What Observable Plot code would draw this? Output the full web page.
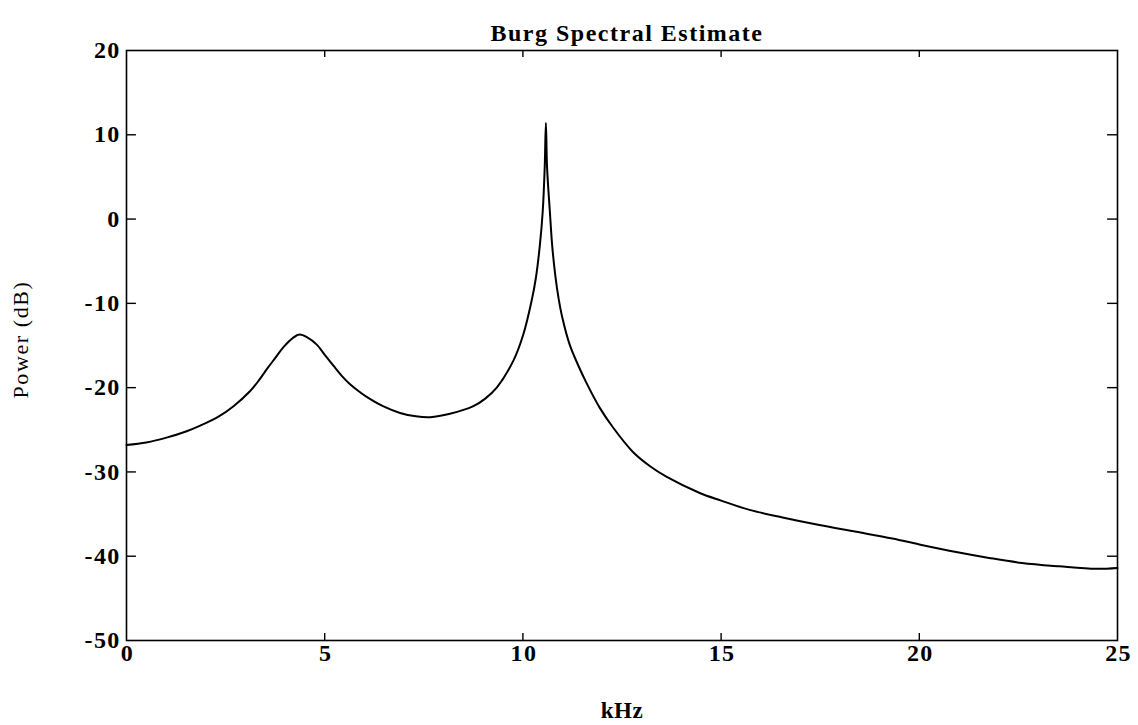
<!DOCTYPE html>
<html><head><meta charset="utf-8">
<script src="https://cdn.jsdelivr.net/npm/d3@7"></script>
<script src="https://cdn.jsdelivr.net/npm/@observablehq/plot@0.6"></script>
<style>body{margin:0;background:#fff}</style>
</head><body><div id="chart"></div>
<script>
const titleText = "Burg Spectral Estimate";
const xLabel = "kHz";
const yLabel = "Power (dB)";
const xTicks = [0, 5, 10, 15, 20, 25];
const yTicks = [-50, -40, -30, -20, -10, 0, 10, 20];
const freq = [0, 0.5, 1.03, 1.5, 1.86, 2.3, 2.7, 3.12, 3.33, 3.54, 3.75, 3.96, 4.2, 4.36, 4.55, 4.8, 5.0, 5.22, 5.43, 5.64, 5.85, 6.06, 6.47, 6.9, 7.3, 7.66, 8.16, 8.75, 9.05, 9.34, 9.76, 10.01, 10.22, 10.33, 10.43, 10.5, 10.55, 10.58, 10.61, 10.68, 10.74, 10.82, 10.9, 11.0, 11.18, 11.4, 11.6, 11.94, 12.27, 12.77, 13.2, 13.63, 14.46, 15.0, 15.72, 16.55, 17.48, 18.41, 19.32, 20.0, 20.93, 21.76, 22.59, 23.53, 24.46, 25];
const power = [-26.8, -26.5, -25.9, -25.2, -24.5, -23.5, -22.2, -20.4, -19.2, -17.8, -16.5, -15.2, -14.1, -13.7, -14.0, -14.9, -16.1, -17.4, -18.6, -19.6, -20.4, -21.1, -22.2, -23.0, -23.4, -23.5, -23.1, -22.2, -21.3, -20.0, -16.8, -13.7, -9.7, -6.9, -3.0, 0.9, 6.1, 11.4, 6.1, 0.9, -3.2, -6.8, -9.4, -11.8, -14.9, -17.4, -19.4, -22.4, -24.7, -27.6, -29.3, -30.6, -32.5, -33.4, -34.5, -35.4, -36.3, -37.1, -37.9, -38.6, -39.5, -40.2, -40.8, -41.2, -41.5, -41.4];

const data = freq.map((f, i) => ({f, p: power[i]}));
const xDom = [xTicks[0], xTicks[xTicks.length - 1]];
const yDom = [yTicks[0], yTicks[yTicks.length - 1]];
const xt = (xDom[1] - xDom[0]) * 0.01;
const yt = (yDom[1] - yDom[0]) * 0.012;
const inner = (arr, dom) => arr.filter(v => v !== dom[0] && v !== dom[1]);
const fmt = d => String(d);

const font = "'Liberation Serif', 'Times New Roman', serif";
const chart = Plot.plot({
  width: 1138, height: 725,
  marginLeft: 126, marginRight: 21, marginTop: 50, marginBottom: 85,
  style: {fontFamily: font, background: "#fff", color: "#000"},
  x: {domain: xDom, label: null},
  y: {domain: yDom, label: null},
  marks: [
    Plot.frame({stroke: "#000", strokeWidth: 1.6}),
    Plot.ruleX(inner(xTicks, xDom), {x: d => d, y1: yDom[0], y2: yDom[0] + yt, stroke: "#000", strokeWidth: 1.4}),
    Plot.ruleX(inner(xTicks, xDom), {x: d => d, y1: yDom[1], y2: yDom[1] - yt, stroke: "#000", strokeWidth: 1.4}),
    Plot.ruleY(inner(yTicks, yDom), {y: d => d, x1: xDom[0], x2: xDom[0] + xt, stroke: "#000", strokeWidth: 1.4}),
    Plot.ruleY(inner(yTicks, yDom), {y: d => d, x1: xDom[1], x2: xDom[1] - xt, stroke: "#000", strokeWidth: 1.4}),
    Plot.axisX(xTicks, {tickSize: 0, tickPadding: 3, dx: 1, tickFormat: fmt, fontSize: 24, fontWeight: "bold", label: null, fill: "#000"}),
    Plot.axisY(yTicks, {tickSize: 0, tickPadding: 6, tickFormat: fmt, fontSize: 24, fontWeight: "bold", label: null, fill: "#000"}),
    Plot.line(data, {x: "f", y: "p", curve: "catmull-rom", stroke: "#000", strokeWidth: 2}),
    Plot.text([titleText], {frameAnchor: "top", textAnchor: "middle", lineAnchor: "middle", dy: -17, dx: 5, fontSize: 24, fontWeight: "bold", fill: "#000"}),
    Plot.text([xLabel], {frameAnchor: "bottom", textAnchor: "middle", lineAnchor: "middle", dy: 70, fontSize: 23, fontWeight: "bold", fill: "#000"}),
    Plot.text([yLabel], {frameAnchor: "left", textAnchor: "middle", lineAnchor: "middle", dx: -106, dy: -6, rotate: -90, fontSize: 22, fill: "#000"})
  ]
});
const spacing = new Map([[titleText, "1.5px"], [yLabel, "1.6px"], [xLabel, "0.5px"]]);
d3.select(chart).selectAll("text").each(function() {
  const t = this.textContent;
  if (spacing.has(t)) this.style.letterSpacing = spacing.get(t);
  else if (/^-?\d+$/.test(t)) this.style.letterSpacing = "1.3px";
});
document.getElementById("chart").appendChild(chart);
</script>
</body></html>
